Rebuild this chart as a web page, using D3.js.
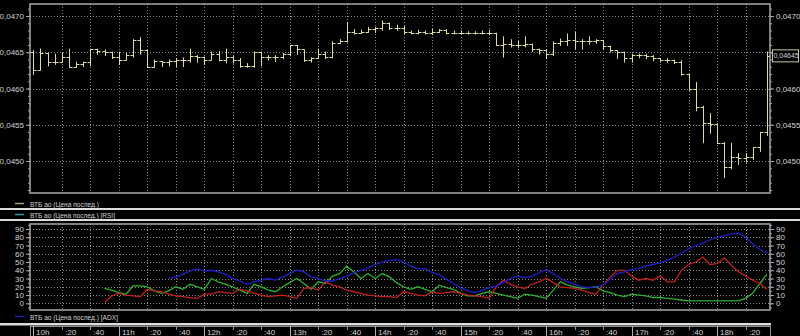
<!DOCTYPE html>
<html><head><meta charset="utf-8">
<script src="https://cdn.jsdelivr.net/npm/d3@7"></script>
<style>
body{margin:0;background:#000;}
svg{display:block;}
text{font-family:"Liberation Sans",Arial,sans-serif;font-size:8px;fill:#d4d4d4;}
</style>
</head><body>
<svg id="c" width="800" height="336"></svg>
<script>
// ---------- DATA ----------
const legendPrice = "ВТБ ао (Цена послед.)";
const legendRSI = "ВТБ ао (Цена послед.) [RSI]";
const legendADX = "ВТБ ао (Цена послед.) [ADX]";
const sessionStart = "10:00";
const barMinutes = 5;
const lastPrice = 0.04645;
const lastPriceLabel = "0,04645";

const open = [0.04650,0.04626,0.04649,0.04637,0.04637,0.04644,0.04630,0.04634,0.04636,0.04655,
0.04652,0.04651,0.04644,0.04640,0.04646,0.04667,0.04653,0.04630,0.04638,0.04636,
0.04638,0.04640,0.04639,0.04645,0.04644,0.04640,0.04648,0.04639,0.04643,0.04640,
0.04631,0.04631,0.04651,0.04643,0.04644,0.04643,0.04647,0.04660,0.04654,0.04639,
0.04642,0.04648,0.04644,0.04663,0.04666,0.04678,0.04677,0.04678,0.04682,0.04683,
0.04690,0.04683,0.04683,0.04678,0.04677,0.04678,0.04677,0.04678,0.04681,0.04677,
0.04677,0.04677,0.04677,0.04677,0.04677,0.04676,0.04660,0.04662,0.04660,0.04660,
0.04662,0.04654,0.04653,0.04648,0.04663,0.04665,0.04667,0.04665,0.04666,0.04665,
0.04667,0.04658,0.04653,0.04651,0.04642,0.04646,0.04646,0.04645,0.04642,0.04640,
0.04639,0.04637,0.04620,0.04599,0.04575,0.04552,0.04551,0.04525,0.04492,0.04506,
0.04504,0.04506,0.04519,0.04540];
const high = [0.04653,0.04655,0.04649,0.04648,0.04649,0.04655,0.04637,0.04637,0.04655,0.04655,
0.04654,0.04651,0.04651,0.04649,0.04668,0.04671,0.04653,0.04640,0.04638,0.04640,
0.04642,0.04643,0.04655,0.04646,0.04644,0.04651,0.04652,0.04655,0.04645,0.04642,
0.04635,0.04651,0.04651,0.04646,0.04646,0.04649,0.04660,0.04660,0.04654,0.04643,
0.04655,0.04651,0.04665,0.04668,0.04692,0.04682,0.04681,0.04685,0.04685,0.04694,
0.04691,0.04688,0.04686,0.04680,0.04681,0.04680,0.04682,0.04682,0.04682,0.04680,
0.04680,0.04679,0.04679,0.04680,0.04681,0.04677,0.04672,0.04668,0.04666,0.04672,
0.04662,0.04655,0.04654,0.04665,0.04669,0.04676,0.04678,0.04668,0.04672,0.04668,
0.04667,0.04659,0.04653,0.04651,0.04648,0.04648,0.04648,0.04646,0.04642,0.04642,
0.04640,0.04639,0.04620,0.04609,0.04576,0.04566,0.04552,0.04526,0.04525,0.04511,
0.04511,0.04519,0.04540,0.04651];
const low = [0.04620,0.04626,0.04632,0.04634,0.04637,0.04630,0.04630,0.04631,0.04632,0.04648,
0.04646,0.04642,0.04634,0.04640,0.04644,0.04648,0.04630,0.04630,0.04631,0.04632,
0.04631,0.04631,0.04637,0.04637,0.04634,0.04640,0.04639,0.04636,0.04636,0.04630,
0.04630,0.04630,0.04632,0.04640,0.04638,0.04642,0.04646,0.04648,0.04638,0.04637,
0.04642,0.04642,0.04643,0.04663,0.04665,0.04676,0.04677,0.04678,0.04678,0.04681,
0.04682,0.04681,0.04676,0.04676,0.04676,0.04676,0.04675,0.04678,0.04676,0.04676,
0.04676,0.04676,0.04676,0.04676,0.04675,0.04660,0.04644,0.04658,0.04657,0.04658,
0.04652,0.04648,0.04642,0.04646,0.04660,0.04660,0.04655,0.04655,0.04662,0.04663,
0.04655,0.04651,0.04642,0.04637,0.04637,0.04643,0.04642,0.04639,0.04637,0.04637,
0.04635,0.04619,0.04598,0.04570,0.04526,0.04539,0.04525,0.04478,0.04490,0.04496,
0.04499,0.04503,0.04514,0.04536];
const close = [0.04626,0.04649,0.04637,0.04637,0.04644,0.04630,0.04634,0.04636,0.04655,0.04652,
0.04651,0.04644,0.04640,0.04646,0.04667,0.04653,0.04630,0.04638,0.04636,0.04638,
0.04640,0.04639,0.04645,0.04644,0.04640,0.04648,0.04639,0.04643,0.04640,0.04631,
0.04631,0.04651,0.04643,0.04644,0.04643,0.04647,0.04660,0.04654,0.04639,0.04642,
0.04648,0.04644,0.04663,0.04666,0.04678,0.04677,0.04678,0.04682,0.04683,0.04690,
0.04683,0.04683,0.04678,0.04677,0.04678,0.04677,0.04678,0.04681,0.04677,0.04677,
0.04677,0.04677,0.04677,0.04677,0.04676,0.04660,0.04662,0.04660,0.04660,0.04662,
0.04654,0.04653,0.04648,0.04663,0.04665,0.04667,0.04665,0.04666,0.04665,0.04667,
0.04658,0.04653,0.04651,0.04642,0.04646,0.04646,0.04645,0.04642,0.04640,0.04639,
0.04637,0.04620,0.04599,0.04575,0.04552,0.04551,0.04525,0.04492,0.04506,0.04504,
0.04506,0.04519,0.04540,0.04645];

// ADX panel
const diStart = 10;   // first bar index with +DI/-DI
const adxStart = 19;  // first bar index with ADX
const plusDI = [18,16,13,11,21,21,20,15,12,15,
20,17,23,20,17,30,26,23,20,16,
12,23,20,16,14,20,25,30,24,17,
26,24,33,36,45,38,30,36,30,36,
32,25,20,17,20,17,14,22,19,17,
12,9,9,12,14,12,10,8,6,11,
10,8,6,16,26,22,20,18,19,20,
15,13,10,8,11,10,9,7,7,6,
5,4,3,3,3,3,3,3,3,3,
6,12,24,35];
const minusDI = [1,9,12,10,9,8,17,15,14,11,
9,8,7,6,11,11,14,13,12,17,
15,12,10,8,9,10,8,6,18,19,
16,26,22,20,16,14,12,10,9,8,
8,7,14,12,10,9,14,12,13,14,
12,10,9,8,6,20,28,23,20,18,
23,26,30,25,20,19,18,16,13,11,
22,32,40,40,33,28,30,28,33,26,
26,40,47,50,56,47,48,55,46,38,
33,28,24,17];
const adx = [30,32,35,39,42,39,40,38,35,30,
27,23,26,28,30,28,32,36,40,38,
32,30,27,27,30,33,37,40,43,47,
50,52,53,50,45,42,42,37,35,29,
24,19,15,13,16,19,21,25,30,33,
31,33,37,41,36,30,26,23,20,19,
20,22,29,36,38,41,42,45,47,49,
52,56,61,66,70,73,77,80,82,84,
85,80,72,65,61];

const priceTicks = [0.0450,0.0455,0.0460,0.0465,0.0470];
const adxTicks = [0,10,20,30,40,50,60,70,80,90];
const timeTickLabels = ["10h",":20",":40","11h",":20",":40","12h",":20",":40","13h",":20",":40",
"14h",":20",":40","15h",":20",":40","16h",":20",":40","17h",":20",":40","18h",":20"];

// ---------- LAYOUT ----------
const svg = d3.select("#c");
const W = 800, H = 336;
const L = 30, R = 770;
const top1 = 4, bot1 = 193;
const top2 = 224, bot2 = 310;
const gridCol = "#8c8c8c", frameCol = "#a8a8a8";
const barCol = "#dcdca4";

svg.append("rect").attr("width",W).attr("height",H).attr("fill","#000");

const parseT = d3.timeParse("%H:%M:%S");
const t0 = d3.timeParse("%H:%M")(sessionStart);
const times = close.map((_, i) => d3.timeMinute.offset(t0, i * barMinutes));
const x = d3.scaleTime()
  .domain([parseT("09:57:40"), parseT("18:37:10")])
  .range([L, R]);
const y = d3.scaleLinear().domain([0.045, 0.047]).range([161, 16]);
const y2 = d3.scaleLinear().domain([0, 90]).range([303.3, 229]);

const gridTimes = d3.timeMinute.every(20).range(t0, parseT("18:30:00"));
const fmt = v => d3.format(".4f")(v).replace(".", ",");

// ---------- TOP PANEL ----------
const g1 = svg.append("g");
g1.selectAll("line.vg").data(gridTimes.slice(1)).join("line")
  .attr("x1", d => Math.round(x(d)) + 0.5).attr("x2", d => Math.round(x(d)) + 0.5)
  .attr("y1", top1).attr("y2", bot1)
  .attr("stroke", gridCol).attr("stroke-dasharray", "1,2");
g1.selectAll("line.hg").data(priceTicks).join("line")
  .attr("x1", L).attr("x2", R)
  .attr("y1", d => Math.round(y(d)) + 0.5).attr("y2", d => Math.round(y(d)) + 0.5)
  .attr("stroke", gridCol).attr("stroke-dasharray", "1,2");

const minorPrice = d3.range(0.0446, 0.04716, 0.0001);
const leftAxis = d3.axisLeft(y).tickValues(minorPrice).tickSize(2).tickFormat("");
const leftMajor = d3.axisLeft(y).tickValues(priceTicks).tickSize(4).tickFormat(fmt).tickPadding(2);
const rightAxis = d3.axisRight(y).tickValues(minorPrice).tickSize(2).tickFormat("");
// right-side label for 0,0465 is hidden behind the last-price box in the reference
const rightMajor = d3.axisRight(y).tickValues(priceTicks)
  .tickSize(4).tickFormat(v => Math.abs(v - 0.0465) < 1e-9 ? "" : fmt(v)).tickPadding(2);
function styleAxis(sel){
  sel.select(".domain").remove();
  sel.selectAll("line").attr("stroke", frameCol);
  sel.selectAll("text").attr("fill", "#d4d4d4").style("font-size","8px").style("font-family","Liberation Sans, Arial, sans-serif");
}
g1.append("g").attr("transform", `translate(${L},0)`).call(leftAxis).call(styleAxis);
g1.append("g").attr("transform", `translate(${L},0)`).call(leftMajor).call(styleAxis);
g1.append("g").attr("transform", `translate(${R},0)`).call(rightAxis).call(styleAxis);
g1.append("g").attr("transform", `translate(${R},0)`).call(rightMajor).call(styleAxis);

// OHLC bars
const bars = g1.append("g").attr("stroke", barCol).attr("stroke-width", 1);
close.forEach((c, i) => {
  const xi = Math.round(x(times[i])) + 0.5;
  bars.append("line").attr("x1", xi).attr("x2", xi).attr("y1", y(high[i])).attr("y2", y(low[i]) + 1);
  bars.append("line").attr("x1", xi - 3).attr("x2", xi).attr("y1", Math.round(y(open[i])) + 0.5).attr("y2", Math.round(y(open[i])) + 0.5);
  bars.append("line").attr("x1", xi).attr("x2", xi + 3).attr("y1", Math.round(y(c)) + 0.5).attr("y2", Math.round(y(c)) + 0.5);
});

g1.append("rect").attr("x", L).attr("y", top1).attr("width", R - L).attr("height", bot1 - top1)
  .attr("fill", "none").attr("stroke", frameCol).attr("stroke-width", 1.5);

// last price box
const lpY = y(lastPrice);
g1.append("rect").attr("x", R + 2.5).attr("y", lpY - 6).attr("width", 26).attr("height", 12)
  .attr("fill", "#000").attr("stroke", "#c8c8a0");
g1.append("text").attr("x", R + 3.5).attr("y", lpY + 2.5)
  .style("font-size", "7px").text(lastPriceLabel);

// ---------- LEGENDS & SEPARATORS ----------
function legend(yc, col, label, len){
  svg.append("line").attr("x1", 15).attr("x2", 24).attr("y1", yc).attr("y2", yc).attr("stroke", col).attr("stroke-width", 1.5);
  svg.append("text").attr("x", 30).attr("y", yc + 3)
    .attr("textLength", len).attr("lengthAdjust", "spacingAndGlyphs").text(label);
}
legend(203.5, "#a0a080", legendPrice, 69);
svg.append("rect").attr("x", 0).attr("y", 208).attr("width", W).attr("height", 2).attr("fill", "#dcdcdc");
legend(214.5, "#20a0a0", legendRSI, 85);
svg.append("rect").attr("x", 0).attr("y", 219).attr("width", W).attr("height", 2).attr("fill", "#dcdcdc");

// ---------- ADX PANEL ----------
const g2 = svg.append("g");
g2.selectAll("line.vg").data(gridTimes.slice(1)).join("line")
  .attr("x1", d => Math.round(x(d)) + 0.5).attr("x2", d => Math.round(x(d)) + 0.5)
  .attr("y1", top2).attr("y2", bot2)
  .attr("stroke", gridCol).attr("stroke-dasharray", "1,2");
g2.selectAll("line.hg").data(adxTicks).join("line")
  .attr("x1", L).attr("x2", R)
  .attr("y1", d => Math.round(y2(d)) + 0.5).attr("y2", d => Math.round(y2(d)) + 0.5)
  .attr("stroke", gridCol).attr("stroke-dasharray", "1,2");
const minorAdx = d3.range(-5, 96, 5);
const l2 = d3.axisLeft(y2).tickValues(adxTicks).tickSize(4).tickPadding(2);
const l2m = d3.axisLeft(y2).tickValues(minorAdx).tickSize(2).tickFormat("");
const r2 = d3.axisRight(y2).tickValues(adxTicks).tickSize(4).tickPadding(2);
const r2m = d3.axisRight(y2).tickValues(minorAdx).tickSize(2).tickFormat("");
g2.append("g").attr("transform", `translate(${L},0)`).call(l2m).call(styleAxis);
g2.append("g").attr("transform", `translate(${L},0)`).call(l2).call(styleAxis);
g2.append("g").attr("transform", `translate(${R},0)`).call(r2m).call(styleAxis);
g2.append("g").attr("transform", `translate(${R},0)`).call(r2).call(styleAxis);

function series(vals, start, col){
  const pts = vals.map((v, k) => [times[start + k], v]);
  g2.append("path").datum(pts)
    .attr("d", d3.line().x(d => x(d[0])).y(d => y2(d[1])))
    .attr("fill", "none").attr("stroke", col).attr("stroke-width", 1.3);
}
series(plusDI, diStart, "#30b030");
series(minusDI, diStart, "#c02020");
series(adx, adxStart, "#2020c8");

g2.append("rect").attr("x", L).attr("y", top2).attr("width", R - L).attr("height", bot2 - top2)
  .attr("fill", "none").attr("stroke", frameCol).attr("stroke-width", 1.5);

legend(316.5, "#2020b0", legendADX, 88);
svg.append("rect").attr("x", 0).attr("y", 323).attr("width", R + 1).attr("height", 2.5).attr("fill", "#dcdcdc");

// ---------- TIME AXIS ----------
const gx = svg.append("g");
gx.append("rect").attr("x", L + 0.5).attr("y", 326.5).attr("width", R - L).attr("height", 12)
  .attr("fill", "none").attr("stroke", "#8c8c8c");
gridTimes.forEach((t, i) => {
  const xi = Math.round(x(t)) + 0.5;
  const hour = t.getMinutes() === 0;
  gx.append("line").attr("x1", xi).attr("x2", xi).attr("y1", 326).attr("y2", hour ? 336 : 330)
    .attr("stroke", hour ? "#b0b0b0" : "#909090").attr("stroke-width", 1);
  gx.append("text").attr("x", xi + 2.5).attr("y", 334.5).text(timeTickLabels[i]);
});
</script>
</body></html>
